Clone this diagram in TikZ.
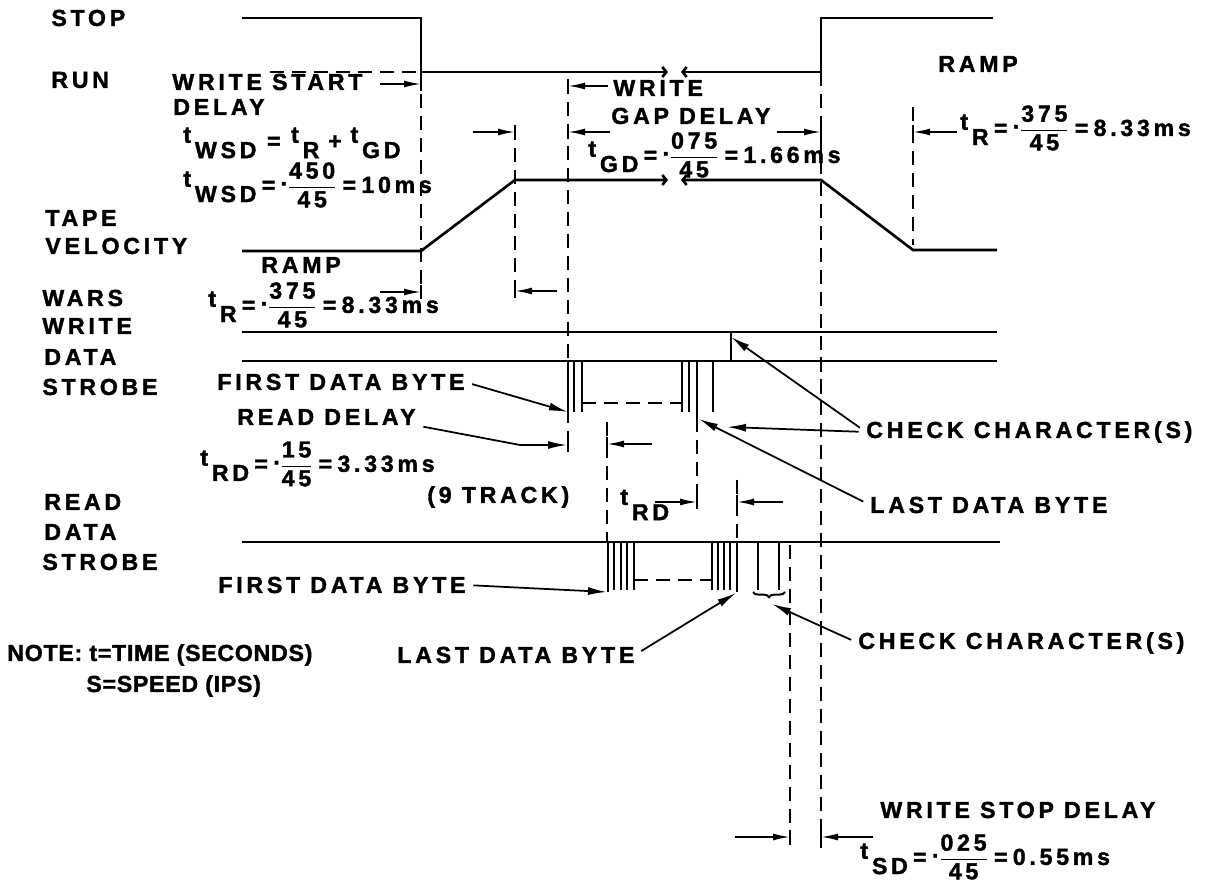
\documentclass[tikz,border=0pt]{standalone}
\usepackage{amsmath}
\usepackage{fontspec}
\setmainfont{Liberation Sans}[LetterSpace=16, BoldFeatures={FakeBold=1.5}]
\newfontfamily\notefont{Liberation Sans}[LetterSpace=3, BoldFeatures={FakeBold=1.5}]
\usetikzlibrary{arrows.meta,decorations.pathreplacing}

\newcommand{\tsb}[1]{\raisebox{.5ex}{t}\,\raisebox{-.75ex}{#1}}
\newcommand{\frc}[2]{$\dfrac{\text{#1}}{\text{#2}}$}
\newcommand{\pnt}{\raisebox{.6ex}{.}}
\newcommand{\eqs}{\hspace{3pt}=\hspace{3pt}}

\begin{document}
\begin{tikzpicture}[
    x=0.02cm, y=-0.02cm,
    font=\bfseries\fontsize{13.2}{15}\selectfont,
    lbl/.style={anchor=west, inner sep=0pt},
    notelbl/.style={lbl, font={\notefont\bfseries\fontsize{13.2}{15}\selectfont}},
    wave/.style={line width=1.5pt},
    guide/.style={line width=1pt, dash pattern=on 8pt off 4.5pt},
    pulse/.style={line width=1.1pt},
    dim/.style={-{Latex[length=3.4mm,width=1.4mm]}, line width=1pt},
    lead/.style={-{Latex[length=3.8mm,width=1.6mm]}, line width=1pt, shorten <=1.5mm},
    brkend/.style={-{Straight Barb[length=0.8mm,width=2mm]}},
    brkstart/.style={{Straight Barb[length=0.8mm,width=2mm]}-}
]
\useasboundingbox (0,0) rectangle (1221,884);

% signal names
\node[lbl] (stop) at (51,18) {STOP};
\node[lbl] (run) at (51,80) {RUN};
\node[lbl] (tape) at (45,218) {TAPE};
\node[lbl] (vel) at (45,246) {VELOCITY};
\node[lbl] (wars) at (42,298) {WARS};
\node[lbl] (wwrite) at (42,326) {WRITE};
\node[lbl] (wdata) at (44,357) {DATA};
\node[lbl] (wstrobe) at (42,387) {STROBE};
\node[lbl] (read) at (44,502) {READ};
\node[lbl] (rdata) at (44,532) {DATA};
\node[lbl] (rstrobe) at (42,562) {STROBE};

% waveforms
\draw[wave, brkend] (242,18) -- (421,18) -- (421,72) -- (668,72);
\draw[wave, brkstart] (681,72) -- (821,72) -- (821,18) -- (993,18);
\draw[wave, brkend] (242,251) -- (421,251) -- (515,180) -- (668,180);
\draw[wave, brkstart] (681,180) -- (821,180) -- (913,250) -- (997,250);
\draw[wave] (242,332) -- (997,332);
\draw[wave] (242,361) -- (997,361);
\draw[wave] (242,542) -- (1000,542);

% write data strobe
\foreach \x in {568,574,582,682,689,713}
    \draw[pulse] (\x,361) -- (\x,412);
\draw[pulse] (697,361) -- (697,418);
\draw[pulse] (731,332) -- (731,361);
\draw[guide] (582,403) -- (682,403);

% read data strobe
\foreach \x in {614,621,627,634,712,718,724,730,758,779}
    \draw[pulse] (\x,542) -- (\x,590);
\draw[pulse] (608,542) -- (608,592);
\draw[pulse] (737,542) -- (737,592);
\draw[guide] (634,580) -- (712,580);
\draw[pulse, decorate, decoration={brace, amplitude=3pt, mirror}] (753,592) -- (785,592);

% timing guides
\draw[guide] (270,72) -- (418,72);
\draw[guide] (421,72) -- (421,298);
\draw[guide] (515,126) -- (515,298);
\draw[guide] (568,80) -- (568,452);
\draw[guide] (821,72) -- (821,848);
\draw[guide] (913,107) -- (913,245);
\draw[guide] (607,422) -- (607,542);
\draw[guide] (697,418) -- (697,505);
\draw[guide] (737,480) -- (737,542);
\draw[guide] (790,545) -- (790,848);

\draw[dim] (380,84) -- (421,84);
\draw[dim] (380,292) -- (421,292);
\draw[dim] (473,132) -- (515,132);
\draw[dim] (557,291) -- (515,291);
\draw[dim] (608,86) -- (568,86);
\draw[dim] (610,132) -- (568,132);
\draw[dim] (777,132) -- (821,132);
\draw[dim] (957,132) -- (913,132);
\draw[dim] (652,444) -- (607,444);
\draw[dim] (655,502) -- (697,502);
\draw[dim] (783,502) -- (737,502);
\draw[dim] (735,837) -- (790,837);
\draw[dim] (873,837) -- (821,837);
\foreach \x/\y in {421/84,421/292,515/132,515/291,568/86,568/132,821/132,913/132,
    607/444,697/502,737/502,790/837,821/837,568/445}
    \draw[pulse] (\x,\y-7) -- (\x,\y+7);

% annotations
\node[lbl] (wsd) at (172,82) {WRITE START};
\node[lbl] (wsd2) at (173,107) {DELAY};
\node[lbl] (eqwsd) at (183,143) {\tsb{WSD}\hspace{6pt}=\hspace{6pt}\tsb{R}\hspace{5pt}+\hspace{5pt}\tsb{GD}};
\node[lbl] (eqwsdv) at (183,185) {\tsb{WSD}\eqs\pnt\frc{450}{45}\eqs10ms};
\node[lbl] (rampl) at (261,265) {RAMP};
\node[lbl] (eqrl) at (208,305) {\tsb{R}\eqs\pnt\frc{375}{45}\eqs8.33ms};
\node[lbl] (wgd) at (613,88) {WRITE};
\node[lbl] (wgd2) at (611,116) {GAP DELAY};
\node[lbl] (eqgd) at (588,155) {\tsb{GD}\eqs\pnt\frc{075}{45}\eqs1.66ms};
\node[lbl] (rampr) at (938,64) {RAMP};
\node[lbl] (eqrr) at (960,128) {\tsb{R}\eqs\pnt\frc{375}{45}\eqs8.33ms};
\node[lbl] (fdbw) at (217,382) {FIRST DATA BYTE};
\node[lbl] (rdl) at (237,417) {READ DELAY};
\node[lbl] (eqrd) at (200,464) {\tsb{RD}\eqs\pnt\frc{15}{45}\eqs3.33ms};
\node[lbl] (trk) at (427,497) {(9 TRACK)};
\node[lbl] (trd) at (620,505) {\tsb{RD}};
\node[lbl] (chku) at (866,432) {CHECK CHARACTER(S)};
\node[lbl] (ldbu) at (870,505) {LAST DATA BYTE};
\node[lbl] (fdbr) at (218,585) {FIRST DATA BYTE};
\node[lbl] (ldbr) at (397,655) {LAST DATA BYTE};
\node[lbl] (chkl) at (858,643) {CHECK CHARACTER(S)};
\node[notelbl] (note) at (7,655) {NOTE: t=TIME (SECONDS)};
\node[notelbl] (note2) at (86,686) {S=SPEED (IPS)};
\node[lbl] (wstop) at (880,810) {WRITE STOP DELAY};
\node[lbl] (eqsd) at (860,857) {\tsb{SD}\eqs\pnt\frc{025}{45}\eqs0.55ms};

\coordinate (wfb) at (568,412);
\coordinate (wrd) at (567,445);
\coordinate (wcc) at (731,337);
\coordinate (wcc2) at (727,427);
\coordinate (wlb) at (699,419);
\coordinate (rfb) at (607,592);
\coordinate (rlb) at (736,593);
\coordinate (rcc) at (772,604);

\draw[lead] (fdbw.east) -- (wfb);
\draw[lead] (rdl.south east) -- (520,445) -- (wrd);
\draw[lead] (chku.west) -- (wcc);
\draw[lead] (chku.west) -- (wcc2);
\draw[lead] (ldbu.west) -- (wlb);
\draw[lead] (fdbr.east) -- (rfb);
\draw[lead] (ldbr.east) -- (rlb);
\draw[lead] (chkl.west) -- (rcc);
\end{tikzpicture}
\end{document}
